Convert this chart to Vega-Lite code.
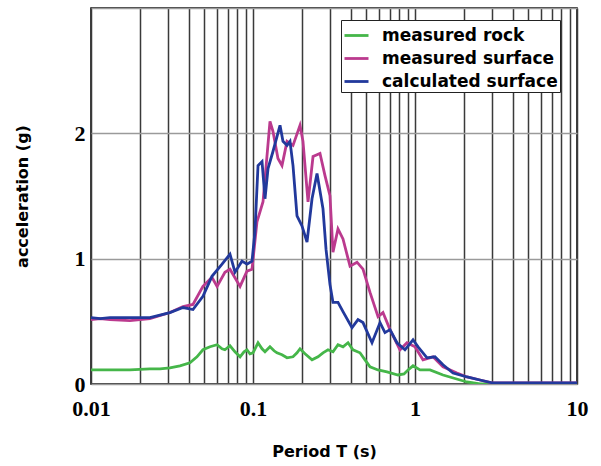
{
  "$schema": "https://vega.github.io/schema/vega-lite/v6.json",
  "autosize": "none",
  "width": 486,
  "height": 376,
  "padding": {"left": 91, "top": 8, "right": 24, "bottom": 82},
  "background": "white",
  "config": {
    "view": {"stroke": "black", "strokeWidth": 1.5},
    "font": "DejaVu Sans"
  },
  "data": {
    "values": [
      {"series": "measured rock", "T": 0.01, "a": 0.112},
      {"series": "measured rock", "T": 0.0131, "a": 0.112},
      {"series": "measured rock", "T": 0.0174, "a": 0.112},
      {"series": "measured rock", "T": 0.0231, "a": 0.12},
      {"series": "measured rock", "T": 0.0267, "a": 0.12},
      {"series": "measured rock", "T": 0.0307, "a": 0.129},
      {"series": "measured rock", "T": 0.0354, "a": 0.145},
      {"series": "measured rock", "T": 0.0408, "a": 0.169},
      {"series": "measured rock", "T": 0.0451, "a": 0.217},
      {"series": "measured rock", "T": 0.0491, "a": 0.273},
      {"series": "measured rock", "T": 0.0543, "a": 0.297},
      {"series": "measured rock", "T": 0.06, "a": 0.313},
      {"series": "measured rock", "T": 0.0644, "a": 0.281},
      {"series": "measured rock", "T": 0.0671, "a": 0.273},
      {"series": "measured rock", "T": 0.0721, "a": 0.305},
      {"series": "measured rock", "T": 0.0774, "a": 0.257},
      {"series": "measured rock", "T": 0.0832, "a": 0.217},
      {"series": "measured rock", "T": 0.088, "a": 0.257},
      {"series": "measured rock", "T": 0.0918, "a": 0.273},
      {"series": "measured rock", "T": 0.0958, "a": 0.241},
      {"series": "measured rock", "T": 0.1, "a": 0.249},
      {"series": "measured rock", "T": 0.1074, "a": 0.329},
      {"series": "measured rock", "T": 0.1137, "a": 0.281},
      {"series": "measured rock", "T": 0.1186, "a": 0.257},
      {"series": "measured rock", "T": 0.1273, "a": 0.297},
      {"series": "measured rock", "T": 0.1349, "a": 0.265},
      {"series": "measured rock", "T": 0.1406, "a": 0.249},
      {"series": "measured rock", "T": 0.151, "a": 0.233},
      {"series": "measured rock", "T": 0.1622, "a": 0.209},
      {"series": "measured rock", "T": 0.1766, "a": 0.217},
      {"series": "measured rock", "T": 0.1869, "a": 0.249},
      {"series": "measured rock", "T": 0.195, "a": 0.281},
      {"series": "measured rock", "T": 0.2094, "a": 0.241},
      {"series": "measured rock", "T": 0.2314, "a": 0.193},
      {"series": "measured rock", "T": 0.2519, "a": 0.217},
      {"series": "measured rock", "T": 0.2704, "a": 0.249},
      {"series": "measured rock", "T": 0.2903, "a": 0.273},
      {"series": "measured rock", "T": 0.3117, "a": 0.257},
      {"series": "measured rock", "T": 0.3347, "a": 0.313},
      {"series": "measured rock", "T": 0.3594, "a": 0.297},
      {"series": "measured rock", "T": 0.386, "a": 0.329},
      {"series": "measured rock", "T": 0.4142, "a": 0.273},
      {"series": "measured rock", "T": 0.4575, "a": 0.249},
      {"series": "measured rock", "T": 0.4914, "a": 0.193},
      {"series": "measured rock", "T": 0.5276, "a": 0.137},
      {"series": "measured rock", "T": 0.5913, "a": 0.112},
      {"series": "measured rock", "T": 0.6714, "a": 0.096},
      {"series": "measured rock", "T": 0.7852, "a": 0.072},
      {"series": "measured rock", "T": 0.8551, "a": 0.08},
      {"series": "measured rock", "T": 0.9057, "a": 0.112},
      {"series": "measured rock", "T": 0.9724, "a": 0.145},
      {"series": "measured rock", "T": 1.074, "a": 0.112},
      {"series": "measured rock", "T": 1.238, "a": 0.112},
      {"series": "measured rock", "T": 1.489, "a": 0.072},
      {"series": "measured rock", "T": 1.897, "a": 0.032},
      {"series": "measured rock", "T": 2.095, "a": 0.016},
      {"series": "measured rock", "T": 2.518, "a": 0.0},
      {"series": "measured rock", "T": 10, "a": 0.0},

      {"series": "measured surface", "T": 0.01, "a": 0.514},
      {"series": "measured surface", "T": 0.0114, "a": 0.522},
      {"series": "measured surface", "T": 0.0131, "a": 0.514},
      {"series": "measured surface", "T": 0.0174, "a": 0.506},
      {"series": "measured surface", "T": 0.0231, "a": 0.522},
      {"series": "measured surface", "T": 0.0307, "a": 0.57},
      {"series": "measured surface", "T": 0.037, "a": 0.618},
      {"series": "measured surface", "T": 0.0426, "a": 0.635},
      {"series": "measured surface", "T": 0.0491, "a": 0.779},
      {"series": "measured surface", "T": 0.0558, "a": 0.851},
      {"series": "measured surface", "T": 0.06, "a": 0.779},
      {"series": "measured surface", "T": 0.0671, "a": 0.892},
      {"series": "measured surface", "T": 0.0721, "a": 0.916},
      {"series": "measured surface", "T": 0.0832, "a": 0.779},
      {"series": "measured surface", "T": 0.0918, "a": 0.9},
      {"series": "measured surface", "T": 0.0986, "a": 0.916},
      {"series": "measured surface", "T": 0.1058, "a": 1.293},
      {"series": "measured surface", "T": 0.1153, "a": 1.454},
      {"series": "measured surface", "T": 0.1273, "a": 2.096},
      {"series": "measured surface", "T": 0.1328, "a": 2.016},
      {"series": "measured surface", "T": 0.1426, "a": 1.799},
      {"series": "measured surface", "T": 0.151, "a": 1.743},
      {"series": "measured surface", "T": 0.1622, "a": 1.936},
      {"series": "measured surface", "T": 0.1766, "a": 1.904},
      {"series": "measured surface", "T": 0.195, "a": 2.064},
      {"series": "measured surface", "T": 0.2035, "a": 1.936},
      {"series": "measured surface", "T": 0.2186, "a": 1.454},
      {"series": "measured surface", "T": 0.2347, "a": 1.815},
      {"series": "measured surface", "T": 0.2591, "a": 1.839},
      {"series": "measured surface", "T": 0.2782, "a": 1.663},
      {"series": "measured surface", "T": 0.2986, "a": 1.502},
      {"series": "measured surface", "T": 0.3117, "a": 1.052},
      {"series": "measured surface", "T": 0.3347, "a": 1.237},
      {"series": "measured surface", "T": 0.3594, "a": 1.157},
      {"series": "measured surface", "T": 0.397, "a": 0.94},
      {"series": "measured surface", "T": 0.4385, "a": 0.972},
      {"series": "measured surface", "T": 0.4775, "a": 0.916},
      {"series": "measured surface", "T": 0.5276, "a": 0.731},
      {"series": "measured surface", "T": 0.5913, "a": 0.538},
      {"series": "measured surface", "T": 0.6343, "a": 0.57},
      {"series": "measured surface", "T": 0.7009, "a": 0.434},
      {"series": "measured surface", "T": 0.8077, "a": 0.273},
      {"series": "measured surface", "T": 0.8921, "a": 0.329},
      {"series": "measured surface", "T": 1.0, "a": 0.297},
      {"series": "measured surface", "T": 1.12, "a": 0.193},
      {"series": "measured surface", "T": 1.292, "a": 0.217},
      {"series": "measured surface", "T": 1.489, "a": 0.137},
      {"series": "measured surface", "T": 1.816, "a": 0.088},
      {"series": "measured surface", "T": 2.095, "a": 0.056},
      {"series": "measured surface", "T": 2.518, "a": 0.032},
      {"series": "measured surface", "T": 3.029, "a": 0.008},
      {"series": "measured surface", "T": 10, "a": 0.008},

      {"series": "calculated surface", "T": 0.01, "a": 0.53},
      {"series": "calculated surface", "T": 0.0114, "a": 0.522},
      {"series": "calculated surface", "T": 0.0131, "a": 0.53},
      {"series": "calculated surface", "T": 0.0174, "a": 0.53},
      {"series": "calculated surface", "T": 0.0231, "a": 0.53},
      {"series": "calculated surface", "T": 0.0307, "a": 0.57},
      {"series": "calculated surface", "T": 0.037, "a": 0.61},
      {"series": "calculated surface", "T": 0.0426, "a": 0.594},
      {"series": "calculated surface", "T": 0.0491, "a": 0.699},
      {"series": "calculated surface", "T": 0.0558, "a": 0.859},
      {"series": "calculated surface", "T": 0.0644, "a": 0.956},
      {"series": "calculated surface", "T": 0.0721, "a": 1.036},
      {"series": "calculated surface", "T": 0.0774, "a": 0.892},
      {"series": "calculated surface", "T": 0.0855, "a": 0.98},
      {"series": "calculated surface", "T": 0.0918, "a": 0.956},
      {"series": "calculated surface", "T": 0.0986, "a": 0.98},
      {"series": "calculated surface", "T": 0.1028, "a": 1.213},
      {"series": "calculated surface", "T": 0.1074, "a": 1.743},
      {"series": "calculated surface", "T": 0.1137, "a": 1.775},
      {"series": "calculated surface", "T": 0.1186, "a": 1.478},
      {"series": "calculated surface", "T": 0.1238, "a": 1.719},
      {"series": "calculated surface", "T": 0.1328, "a": 1.855},
      {"series": "calculated surface", "T": 0.1468, "a": 2.064},
      {"series": "calculated surface", "T": 0.1531, "a": 1.936},
      {"series": "calculated surface", "T": 0.1622, "a": 1.904},
      {"series": "calculated surface", "T": 0.1692, "a": 1.936},
      {"series": "calculated surface", "T": 0.1766, "a": 1.743},
      {"series": "calculated surface", "T": 0.1869, "a": 1.341},
      {"series": "calculated surface", "T": 0.2006, "a": 1.261},
      {"series": "calculated surface", "T": 0.2155, "a": 1.133},
      {"series": "calculated surface", "T": 0.2314, "a": 1.478},
      {"series": "calculated surface", "T": 0.2484, "a": 1.679},
      {"series": "calculated surface", "T": 0.2704, "a": 1.398},
      {"series": "calculated surface", "T": 0.2823, "a": 1.076},
      {"series": "calculated surface", "T": 0.2986, "a": 0.795},
      {"series": "calculated surface", "T": 0.3117, "a": 0.651},
      {"series": "calculated surface", "T": 0.3347, "a": 0.651},
      {"series": "calculated surface", "T": 0.3594, "a": 0.578},
      {"series": "calculated surface", "T": 0.4084, "a": 0.45},
      {"series": "calculated surface", "T": 0.4447, "a": 0.514},
      {"series": "calculated surface", "T": 0.4775, "a": 0.49},
      {"series": "calculated surface", "T": 0.5428, "a": 0.329},
      {"series": "calculated surface", "T": 0.6083, "a": 0.49},
      {"series": "calculated surface", "T": 0.6526, "a": 0.41},
      {"series": "calculated surface", "T": 0.7009, "a": 0.434},
      {"series": "calculated surface", "T": 0.7742, "a": 0.329},
      {"series": "calculated surface", "T": 0.867, "a": 0.273},
      {"series": "calculated surface", "T": 0.9724, "a": 0.353},
      {"series": "calculated surface", "T": 1.0443, "a": 0.297},
      {"series": "calculated surface", "T": 1.186, "a": 0.209},
      {"series": "calculated surface", "T": 1.328, "a": 0.217},
      {"series": "calculated surface", "T": 1.489, "a": 0.153},
      {"series": "calculated surface", "T": 1.717, "a": 0.088},
      {"series": "calculated surface", "T": 2.095, "a": 0.056},
      {"series": "calculated surface", "T": 2.518, "a": 0.032},
      {"series": "calculated surface", "T": 3.029, "a": 0.008},
      {"series": "calculated surface", "T": 10, "a": 0.008}
    ]
  },
  "mark": {"type": "line", "strokeWidth": 2.8, "clip": true},
  "encoding": {
    "x": {
      "field": "T",
      "type": "quantitative",
      "scale": {"type": "log", "domain": [0.01, 10], "nice": false},
      "axis": {
        "title": "Period T (s)",
        "titleFont": "DejaVu Sans",
        "titleFontSize": 16,
        "titleFontWeight": "bold",
        "titleColor": "black",
        "titlePadding": 24,
        "titleX": 233,
        "titleAlign": "center",
        "values": [0.01, 0.02, 0.03, 0.04, 0.05, 0.06, 0.07, 0.08, 0.09, 0.1, 0.2, 0.3, 0.4, 0.5, 0.6, 0.7, 0.8, 0.9, 1, 2, 3, 4, 5, 6, 7, 8, 9, 10],
        "labelExpr": "datum.value == 0.01 ? '0.01' : datum.value == 0.1 ? '0.1' : datum.value == 1 ? '1' : datum.value == 10 ? '10' : ''",
        "labelFont": "Liberation Serif",
        "labelFontSize": 22,
        "labelFontWeight": "bold",
        "labelColor": "black",
        "labelPadding": 14,
        "labelOverlap": false,
        "labelFlush": false,
        "labelBound": false,
        "ticks": false,
        "domain": false,
        "grid": true,
        "gridColor": "#3a3a3a",
        "gridWidth": 1.5,
        "gridOpacity": 1
      }
    },
    "y": {
      "field": "a",
      "type": "quantitative",
      "scale": {"domain": [0, 3], "nice": false},
      "axis": {
        "title": "acceleration (g)",
        "titleFont": "DejaVu Sans",
        "titleFontSize": 16,
        "titleFontWeight": "bold",
        "titleColor": "black",
        "titlePadding": 44,
        "values": [0, 1, 2, 3],
        "labelExpr": "datum.value == 3 ? '' : datum.label",
        "labelFont": "Liberation Serif",
        "labelFontSize": 22,
        "labelFontWeight": "bold",
        "labelColor": "black",
        "labelPadding": 6,
        "labelOverlap": false,
        "labelFlush": false,
        "labelBound": false,
        "ticks": false,
        "domain": false,
        "grid": true,
        "gridColor": "#9a9a9a",
        "gridWidth": 1.5,
        "gridOpacity": 1
      }
    },
    "color": {
      "field": "series",
      "type": "nominal",
      "sort": ["measured rock", "measured surface", "calculated surface"],
      "scale": {
        "domain": ["measured rock", "measured surface", "calculated surface"],
        "range": ["#45b649", "#bb3a8e", "#22399c"]
      },
      "legend": {
        "title": null,
        "orient": "none",
        "legendX": 250,
        "legendY": 12,
        "strokeColor": "#222222",
        "fillColor": "white",
        "padding": 2,
        "symbolType": "stroke",
        "symbolSize": 576,
        "symbolStrokeWidth": 2.8,
        "labelFont": "DejaVu Sans",
        "labelFontSize": 17,
        "labelFontWeight": "bold",
        "labelColor": "black",
        "labelOffset": 12,
        "rowPadding": 1,
        "labelLimit": 300
      }
    }
  }
}
